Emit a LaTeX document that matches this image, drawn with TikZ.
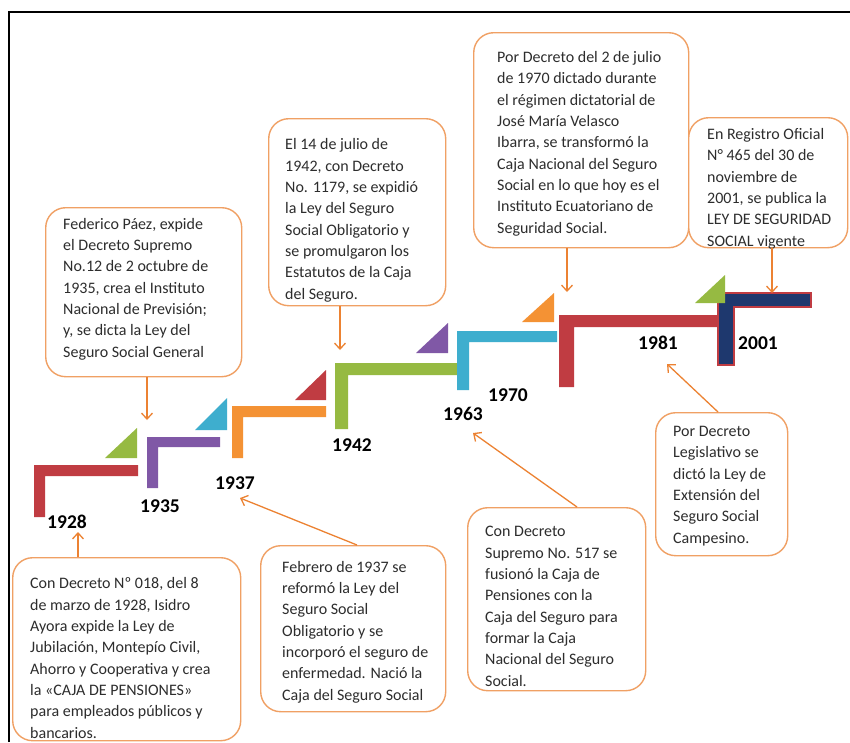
\documentclass[tikz,border=0pt]{standalone}
\usepackage{fontspec}
\setmainfont{Carlito}
\usetikzlibrary{arrows.meta}
\definecolor{cRed}{RGB}{192,60,66}
\definecolor{cPurple}{RGB}{128,88,166}
\definecolor{cOrange}{RGB}{244,146,52}
\definecolor{cGreen}{RGB}{150,186,66}
\definecolor{cCyan}{RGB}{62,174,206}
\definecolor{cNavy}{RGB}{30,56,110}
\definecolor{boxline}{RGB}{240,160,100}
\definecolor{arr}{RGB}{236,130,50}
\definecolor{txtc}{RGB}{45,45,45}
\begin{document}
\begin{tikzpicture}[x=1pt,y=-1pt,
  box/.style={draw=boxline, line width=1.4pt, rounded corners=20pt, fill=white, inner sep=0pt, anchor=north west},
  txt/.style={text=txtc, inner sep=0pt, align=left, anchor=base west, font=\fontsize{16}{21.3}\selectfont},
  yr/.style={inner sep=0pt, font=\fontsize{19.5}{22}\selectfont\bfseries},
  conn/.style={draw=arr, line width=1.3pt, -{Straight Barb[length=6pt,width=11pt,line width=1.3pt]}}]
\useasboundingbox (0,0) rectangle (850,742);
\fill[white] (0,0) rectangle (850,742);
% frame
\draw[line width=2pt] (9,742) -- (9,12) -- (850,12);

% steps
\fill[cRed] (34,517) -- (34,465) -- (138,465) -- (138,476) -- (45,476) -- (45,517) -- cycle;
\fill[cPurple] (147,488) -- (147,437) -- (220,437) -- (220,447) -- (158,447) -- (158,488) -- cycle;
\fill[cOrange] (232,458) -- (232,406) -- (326,406) -- (326,417) -- (243,417) -- (243,458) -- cycle;
\fill[cGreen] (335,429) -- (335,363) -- (457,363) -- (457,375) -- (348,375) -- (348,429) -- cycle;
\fill[cCyan] (457,390) -- (457,331) -- (557,331) -- (557,342) -- (469,342) -- (469,390) -- cycle;
\fill[cRed] (559,387) -- (559,315) -- (722,315) -- (722,327) -- (574,327) -- (574,387) -- cycle;
\filldraw[fill=cNavy, draw=cRed, line width=1.5pt] (718,365) -- (718,293) -- (811,293) -- (811,307) -- (734,307) -- (734,365) -- cycle;

% triangles
\fill[cGreen] (105,458) -- (137,458) -- (137,428) -- cycle;
\fill[cCyan] (195,430) -- (227,430) -- (227,398) -- cycle;
\fill[cRed] (295,400) -- (326,400) -- (326,370) -- cycle;
\fill[cPurple] (416,353) -- (448,353) -- (448,323) -- cycle;
\fill[cOrange] (522,322) -- (554,322) -- (554,293) -- cycle;
\fill[cGreen] (695,303) -- (725,303) -- (725,275) -- cycle;

% year labels
\node[yr] (y1928) at (67,522) {1928};
\node[yr] (y1935) at (160,506) {1935};
\node[yr] (y1937) at (235,483) {1937};
\node[yr] (y1942) at (352,445) {1942};
\node[yr] (y1963) at (463,414) {1963};
\node[yr] (y1970) at (508,395) {1970};
\node[yr] (y1981) at (658,343) {1981};
\node[yr] (y2001) at (758,343) {2001};

% boxes
\node[box, minimum width=228pt, minimum height=183pt] (b1928) at (12,557) {};
\node[box, minimum width=196pt, minimum height=169pt] (b1935) at (45,207) {};
\node[box, minimum width=177pt, minimum height=187pt] (b1942) at (268,118) {};
\node[box, minimum width=215pt, minimum height=215pt] (b1970) at (473,32) {};
\node[box, minimum width=159pt, minimum height=130pt] (b2001) at (688,117) {};
\node[box, minimum width=185pt, minimum height=166pt] (b1937) at (260,545) {};
\node[box, minimum width=178pt, minimum height=183pt] (b1963) at (467,507) {};
\node[box, minimum width=132pt, minimum height=143pt] (b1981) at (655,412) {};

% texts (anchor = baseline of last line)
\node[txt] (t1928) at (30,738) {Con Decreto Nº 018, del 8\\de marzo de 1928, Isidro\\Ayora expide la Ley de\\Jubilación, Montepío Civil,\\Ahorro y Cooperativa y crea\\la «CAJA DE PENSIONES»\\para empleados públicos y\\bancarios.};
\node[txt] (t1935) at (63,357) {Federico Páez, expide\\el Decreto Supremo\\No.12 de 2 octubre de\\1935, crea el Instituto\\Nacional de Previsión;\\y, se dicta la Ley del\\Seguro Social General};
\node[txt] (t1942) at (285,299) {El 14 de julio de\\1942, con Decreto\\No. 1179, se expidió\\la Ley del Seguro\\Social Obligatorio y\\se promulgaron los\\Estatutos de la Caja\\del Seguro.};
\node[txt] (t1970) at (497,233) {Por Decreto del 2 de julio\\de 1970 dictado durante\\el régimen dictatorial de\\José María Velasco\\Ibarra, se transformó la\\Caja Nacional del Seguro\\Social en lo que hoy es el\\Instituto Ecuatoriano de\\Seguridad Social.};
\node[txt] (t2001) at (707,246) {En Registro Oficial\\N° 465 del 30 de\\noviembre de\\2001, se publica la\\LEY DE SEGURIDAD\\SOCIAL vigente};
\node[txt] (t1937) at (282,700) {Febrero de 1937 se\\reformó la Ley del\\Seguro Social\\Obligatorio y se\\incorporó el seguro de\\enfermedad. Nació la\\Caja del Seguro Social};
\node[txt] (t1963) at (485,686) {Con Decreto\\Supremo No. 517 se\\fusionó la Caja de\\Pensiones con la\\Caja del Seguro para\\formar la Caja\\Nacional del Seguro\\Social.};
\node[txt] (t1981) at (673,543) {Por Decreto\\Legislativo se\\dictó la Ley de\\Extensión del\\Seguro Social\\Campesino.};

% connector coordinates
\coordinate (a1928) at (78,532);
\coordinate (a1935) at (147,420);
\coordinate (a1942) at (340,350);
\coordinate (a1970) at (567,292);
\coordinate (a2001) at (772,293);
\coordinate (a1937) at (240,498);
\coordinate (s1937) at (357,545);
\coordinate (a1963) at (473,433);
\coordinate (s1963) at (577,507);
\coordinate (a1981) at (667,364);
\coordinate (s1981) at (718,412);

% connectors
\draw[conn] (b1928.north -| a1928) -- (a1928);
\draw[conn] (b1935.south -| a1935) -- (a1935);
\draw[conn] (b1942.south -| a1942) -- (a1942);
\draw[conn] (b1970.south -| a1970) -- (a1970);
\draw[conn] (b2001.south -| a2001) -- (a2001);
\draw[conn] (b1937.north -| s1937) -- (a1937);
\draw[conn] (b1963.north -| s1963) -- (a1963);
\draw[conn] (b1981.north -| s1981) -- (a1981);
\end{tikzpicture}
\end{document}
